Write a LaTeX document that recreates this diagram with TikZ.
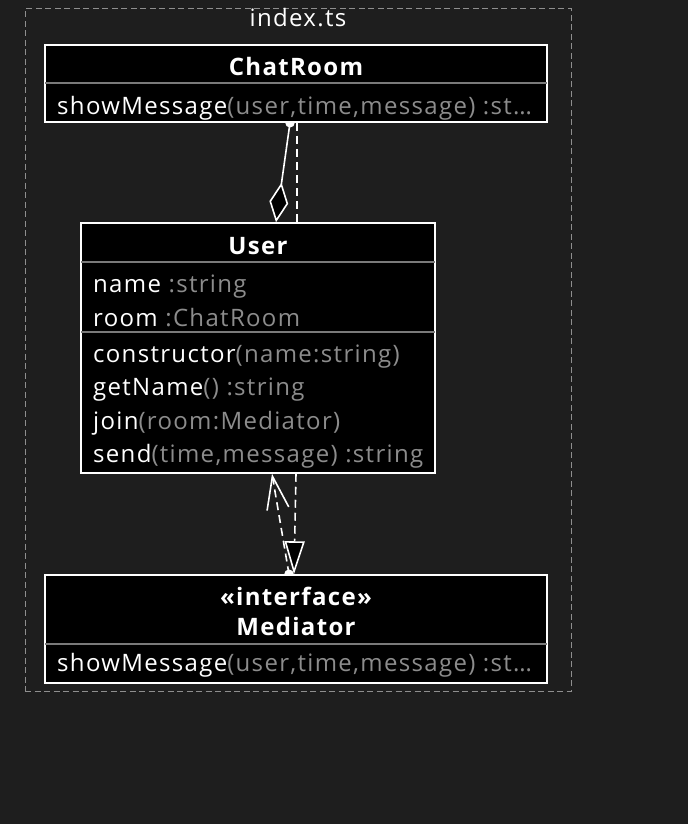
\documentclass[tikz,border=0pt]{standalone}
\usepackage{fontspec}
\setmainfont{Open Sans}[LetterSpace=5.5]
\usepackage{xcolor}
\usetikzlibrary{arrows.meta, backgrounds}
\definecolor{bgdark}{HTML}{1E1E1E}
\definecolor{mutedgray}{HTML}{8C8C8C}
\definecolor{sepgray}{HTML}{7A7A7A}
\definecolor{framegray}{HTML}{8F8F8F}
\newcommand{\umlsize}{\fontsize{24}{28}\selectfont}
\newcommand{\argtxt}[1]{\textcolor{mutedgray}{#1}}
\tikzset{
  clsbox/.style={draw=white,fill=black,line width=1.5pt,inner sep=0pt,rectangle},
  clsname/.style={text=white,font=\umlsize\bfseries,anchor=base,inner sep=0pt},
  memberrow/.style={text=white,font=\umlsize,anchor=base west,inner sep=0pt},
  sepline/.style={draw=sepgray,line width=2pt,shorten <=0.8pt,shorten >=0.8pt},
  fileframe/.style={draw=framegray,line width=1pt,dash pattern=on 6pt off 3.5pt},
  aggedge/.style={white,line width=1.6pt,-{Diamond[length=40pt,width=19pt,fill=black]}},
  depedge/.style={white,line width=1.6pt,dash pattern=on 8pt off 5pt},
  useedge/.style={depedge,-{Straight Barb[length=33pt,width=22pt]}},
  realedge/.style={depedge,-{Triangle[length=33pt,width=20pt,fill=black]}},
}

\begin{document}
\begin{tikzpicture}[x=1pt,y=-1pt]
  \useasboundingbox (0,0) rectangle (688,824);
  % file frame
  \node[fileframe,minimum width=546pt,minimum height=682pt,inner sep=0pt] (fIndex) at (298,350) {};
  \node[text=white,font=\umlsize,anchor=base] (tIndex) at (298,27) {index.ts};
  % classes
  \node[clsbox,minimum width=502pt,minimum height=77pt] (nChatRoom) at (296,83.5) {};
  \node[clsbox,minimum width=354pt,minimum height=250pt] (nUser) at (258,348) {};
  \node[clsbox,minimum width=502pt,minimum height=108pt] (nMediator) at (296,629) {};
  % ChatRoom
  \node[clsname] (tChatRoom) at (296,76) {ChatRoom};
  \draw[sepline] ([yshift=-39pt]nChatRoom.north west) -- ([yshift=-39pt]nChatRoom.north east);
  \node[memberrow] (mCrShow) at (57,114) {showMessage\argtxt{(user,time,message) :st…}};
  % User
  \node[clsname] (tUser) at (258,254) {User};
  \draw[sepline] ([yshift=-40pt]nUser.north west) -- ([yshift=-40pt]nUser.north east);
  \node[memberrow] (aName) at (93,292) {name \argtxt{:string}};
  \node[memberrow] (aRoom) at (93,326) {room \argtxt{:ChatRoom}};
  \draw[sepline] ([yshift=-110pt]nUser.north west) -- ([yshift=-110pt]nUser.north east);
  \node[memberrow] (mCtor) at (93,362) {constructor\argtxt{(name:string)}};
  \node[memberrow] (mGetName) at (93,395) {getName\argtxt{() :string}};
  \node[memberrow] (mJoin) at (93,429) {join\argtxt{(room:Mediator)}};
  \node[memberrow] (mSend) at (93,462) {send\argtxt{(time,message) :string}};
  % Mediator
  \node[clsname] (tStereo) at (296,605) {«interface»};
  \node[clsname] (tMediator) at (296,635) {Mediator};
  \draw[sepline] ([yshift=-70pt]nMediator.north west) -- ([yshift=-70pt]nMediator.north east);
  \node[memberrow] (mMdShow) at (57,671) {showMessage\argtxt{(user,time,message) :st…}};
  % relations, behind the boxes
  \begin{scope}[on background layer]
    \fill[bgdark] (0,0) rectangle (688,824);
    \fill[white] ([xshift=-6pt]nChatRoom.south) circle (4.8pt);
    \draw[aggedge] ([xshift=-6pt]nChatRoom.south) -- ([xshift=18pt]nUser.north);
    \draw[depedge] ([xshift=1pt]nChatRoom.south) -- ([xshift=39pt]nUser.north);
    \fill[white] ([xshift=-7pt]nMediator.north) circle (4.8pt);
    \draw[useedge] ([xshift=-7pt]nMediator.north) -- ([xshift=14pt]nUser.south);
    \draw[realedge] ([xshift=38pt]nUser.south) -- ([xshift=-2pt]nMediator.north);
  \end{scope}
\end{tikzpicture}
\end{document}
